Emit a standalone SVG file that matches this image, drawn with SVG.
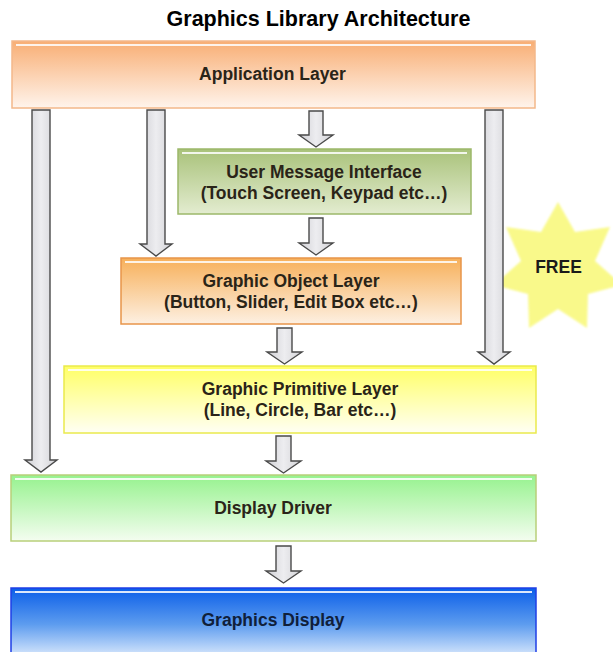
<svg xmlns="http://www.w3.org/2000/svg" width="613" height="652" viewBox="0 0 613 652">
  <defs>
    <linearGradient id="gApp" x1="0" y1="0" x2="0" y2="1">
      <stop offset="0" stop-color="#f8ae74"/>
      <stop offset="1" stop-color="#fff4ec"/>
    </linearGradient>
    <linearGradient id="gUmi" x1="0" y1="0" x2="0" y2="1">
      <stop offset="0" stop-color="#a9c27a"/>
      <stop offset="1" stop-color="#e3ecd0"/>
    </linearGradient>
    <linearGradient id="gObj" x1="0" y1="0" x2="0" y2="1">
      <stop offset="0" stop-color="#f7b05a"/>
      <stop offset="1" stop-color="#fdf0e2"/>
    </linearGradient>
    <linearGradient id="gPrim" x1="0" y1="0" x2="0" y2="1">
      <stop offset="0" stop-color="#ffff66"/>
      <stop offset="1" stop-color="#fffff4"/>
    </linearGradient>
    <linearGradient id="gDrv" x1="0" y1="0" x2="0" y2="1">
      <stop offset="0" stop-color="#96f28e"/>
      <stop offset="1" stop-color="#f4fdf0"/>
    </linearGradient>
    <linearGradient id="gDisp" x1="0" y1="0" x2="0" y2="1">
      <stop offset="0" stop-color="#0a5ee8"/>
      <stop offset="0.55" stop-color="#5d9cef"/>
      <stop offset="1" stop-color="#cfe2fb"/>
    </linearGradient>
    <linearGradient id="gArrow" x1="0" y1="0" x2="1" y2="0">
      <stop offset="0" stop-color="#cfcfd4"/>
      <stop offset="0.5" stop-color="#ededf0"/>
      <stop offset="1" stop-color="#d2d2d6"/>
    </linearGradient>
    <filter id="soft" x="-10%" y="-10%" width="120%" height="120%">
      <feGaussianBlur stdDeviation="1.2"/>
    </filter>
  </defs>
  <style>
    .box { stroke-width: 1.5; }
    .gloss { stroke: #ffffff; stroke-width: 2; opacity: 0.85; }
    .lbl { font-family: "Liberation Sans", Arial, sans-serif; font-weight: bold; font-size: 17.5px; fill: #2a2418; text-anchor: middle; }
    .title { font-family: "Liberation Sans", Arial, sans-serif; font-weight: bold; font-size: 21.5px; fill: #000; text-anchor: middle; }
    .arrow { fill: url(#gArrow); stroke: #4a4a4a; stroke-width: 1.4; stroke-linejoin: miter; }
  </style>

  <rect width="613" height="652" fill="#ffffff"/>

  <text class="title" x="318.5" y="26">Graphics Library Architecture</text>

  <!-- FREE badge -->
  <g id="free-badge">
    <polygon filter="url(#soft)" fill="#f9f98a"
      points="558,202 575,232 610,227 595,261 622,285 588,294 587,328 558,309 529,328 528,294 494,285 521,261 506,227 541,232"/>
    <text class="lbl" x="558.5" y="273" style="fill:#1a1a1a">FREE</text>
  </g>

  <!-- layer boxes -->
  <g id="application-layer">
    <rect class="box" x="12" y="41" width="523" height="67" fill="url(#gApp)" stroke="#f3b88a"/>
    <line class="gloss" x1="16" y1="45" x2="531" y2="45"/>
    <text class="lbl" x="272.5" y="80">Application Layer</text>
  </g>

  <g id="user-message-interface">
    <rect class="box" x="178" y="149" width="293" height="65" fill="url(#gUmi)" stroke="#9cb86a"/>
    <line class="gloss" x1="182" y1="153" x2="467" y2="153"/>
    <text class="lbl" x="324" y="178">User Message Interface</text>
    <text class="lbl" x="324" y="199">(Touch Screen, Keypad etc…)</text>
  </g>

  <g id="graphic-object-layer">
    <rect class="box" x="121" y="258" width="340" height="66" fill="url(#gObj)" stroke="#e8954a"/>
    <line class="gloss" x1="125" y1="262" x2="457" y2="262"/>
    <text class="lbl" x="291" y="287">Graphic Object Layer</text>
    <text class="lbl" x="291" y="308">(Button, Slider, Edit Box etc…)</text>
  </g>

  <g id="graphic-primitive-layer">
    <rect class="box" x="64" y="366" width="472" height="67" fill="url(#gPrim)" stroke="#eaea4c"/>
    <line class="gloss" x1="68" y1="370" x2="532" y2="370"/>
    <text class="lbl" x="300" y="395">Graphic Primitive Layer</text>
    <text class="lbl" x="300" y="416">(Line, Circle, Bar etc…)</text>
  </g>

  <g id="display-driver">
    <rect class="box" x="11" y="475" width="525" height="66" fill="url(#gDrv)" stroke="#b8cf7a"/>
    <line class="gloss" x1="15" y1="479" x2="532" y2="479"/>
    <text class="lbl" x="273" y="514">Display Driver</text>
  </g>

  <g id="graphics-display">
    <rect class="box" x="11" y="588" width="525" height="66" fill="url(#gDisp)" stroke="#1f3fe6"/>
    <line class="gloss" x1="15" y1="592" x2="532" y2="592"/>
    <text class="lbl" x="273" y="626" style="fill:#10203a">Graphics Display</text>
  </g>

  <!-- connectors -->
  <g id="connectors">
    <!-- application layer to display driver -->
    <path class="arrow" d="M32,110 H50 V460 H57 L41,472 L25,460 H32 Z"/>
    <!-- application layer to graphic object layer -->
    <path class="arrow" d="M147,110 H165 V244 H172 L156,256 L140,244 H147 Z"/>
    <!-- application layer to user message interface -->
    <path class="arrow" d="M309,111 H323 V135 H333 L316,147 L299,135 H309 Z"/>
    <!-- user message interface to graphic object layer -->
    <path class="arrow" d="M309,218 H323 V243 H333 L316,255 L299,243 H309 Z"/>
    <!-- application layer to graphic primitive layer -->
    <path class="arrow" d="M485,110 H503 V352 H510 L494,364 L478,352 H485 Z"/>
    <!-- graphic object layer to graphic primitive layer -->
    <path class="arrow" d="M277,328 H292 V352 H302 L284.5,364 L267,352 H277 Z"/>
    <!-- graphic primitive layer to display driver -->
    <path class="arrow" d="M276,436 H291 V461 H301 L283.5,473 L266,461 H276 Z"/>
    <!-- display driver to graphics display -->
    <path class="arrow" d="M276,546 H291 V571 H301 L283.5,583 L266,571 H276 Z"/>
  </g>
</svg>
